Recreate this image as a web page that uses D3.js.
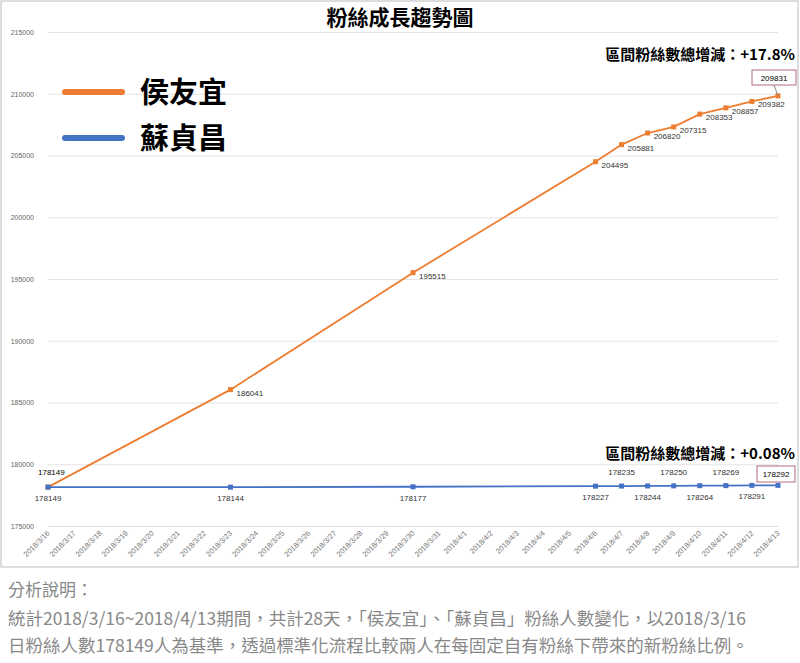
<!DOCTYPE html><html><head><meta charset="utf-8"><script src="https://cdn.jsdelivr.net/npm/d3@7"></script>
<style>body{margin:0;background:#fff;font-family:"Noto Sans CJK TC","Noto Sans",sans-serif}</style></head><body><svg id="c" width="800" height="663"></svg>
<script>
const dates=["2018/3/16","2018/3/17","2018/3/18","2018/3/19","2018/3/20","2018/3/21","2018/3/22","2018/3/23","2018/3/24","2018/3/25","2018/3/26","2018/3/27","2018/3/28","2018/3/29","2018/3/30","2018/3/31","2018/4/1","2018/4/2","2018/4/3","2018/4/4","2018/4/5","2018/4/6","2018/4/7","2018/4/8","2018/4/9","2018/4/10","2018/4/11","2018/4/12","2018/4/13"];
const pointDates=["2018/3/16","2018/3/23","2018/3/30","2018/4/6","2018/4/7","2018/4/8","2018/4/9","2018/4/10","2018/4/11","2018/4/12","2018/4/13"];
const hou=[178149,186041,195515,204495,205881,206820,207315,208353,208857,209382,209831];
const su=[178149,178144,178177,178227,178235,178244,178250,178264,178269,178291,178292];
const suLabelPos=["below","below","below","below","above","below","above","below","above","below","above"];
const yTicks=[175000,180000,185000,190000,195000,200000,205000,210000,215000];
const svg=d3.select("#c");
svg.append("rect").attr("x",1).attr("y",1).attr("width",797).attr("height",566).attr("fill","none").attr("stroke","#bbb");
const x=d3.scalePoint().domain(dates).range([48,778]);
const y=d3.scaleLinear().domain([175000,215000]).range([526,32]);
const ya=svg.append("g").attr("transform","translate(48,0)").call(d3.axisLeft(y).tickValues(yTicks).tickSize(-730).tickFormat(d3.format("d")));
ya.select(".domain").remove();
ya.selectAll("line").attr("stroke","#e4e4e4");
ya.selectAll("text").attr("fill","#666").attr("font-size",7).attr("x",-14).attr("font-family","Liberation Sans");
const xa=svg.append("g").attr("transform","translate(0,526)").call(d3.axisBottom(x).tickSize(0));
xa.select(".domain").attr("stroke","#e0e0e0");
xa.selectAll("text").attr("fill","#777").attr("font-size",7.5).attr("font-family","Liberation Sans").attr("text-anchor","end").attr("transform","translate(-2,4) rotate(-45)").attr("dy","0.3em");
const line=d3.line().x((d,i)=>x(pointDates[i])).y(d=>y(d));
function series(data,color){
 svg.append("path").datum(data).attr("d",line).attr("fill","none").attr("stroke",color).attr("stroke-width",1.8);
 svg.selectAll(null).data(data).enter().append("rect").attr("x",(d,i)=>x(pointDates[i])-2.5).attr("y",d=>y(d)-2.5).attr("width",5).attr("height",5).attr("fill",color);
}
series(hou,"#ed7d31");series(su,"#4472c4");
const lf="Liberation Sans";
hou.forEach((v,i)=>{if(i===0){svg.append("text").attr("x",x(pointDates[0])-10).attr("y",y(v)-12).text(v).attr("font-size",8).attr("font-family",lf);return;}
 if(i===hou.length-1)return;
 svg.append("text").attr("x",x(pointDates[i])+6).attr("y",y(v)+6).text(v).attr("font-size",8).attr("font-family",lf).attr("fill","#333");});
const last=hou.length-1;
svg.append("rect").attr("x",752).attr("y",70).attr("width",44).attr("height",15).attr("fill","#fff").attr("stroke","#b56b7a");
svg.append("text").attr("x",774).attr("y",81).attr("text-anchor","middle").text(hou[last]).attr("font-size",8).attr("font-family",lf);
svg.append("line").attr("x1",774).attr("y1",85).attr("x2",x(pointDates[last])).attr("y2",y(hou[last])).attr("stroke","#888");
su.forEach((v,i)=>{if(i===su.length-1)return;
 const ab=suLabelPos[i]==="above";
 svg.append("text").attr("x",x(pointDates[i])).attr("y",ab?y(v)-11:y(v)+14).attr("text-anchor","middle").text(v).attr("font-size",8).attr("font-family",lf).attr("fill","#333");});
svg.append("rect").attr("x",757).attr("y",466).attr("width",38).attr("height",16).attr("fill","#fff").attr("stroke","#b56b7a");
svg.append("text").attr("x",776).attr("y",477).attr("text-anchor","middle").text(su[su.length-1]).attr("font-size",8).attr("font-family",lf);
svg.append("text").attr("x",400).attr("y",25).attr("text-anchor","middle").text("粉絲成長趨勢圖").attr("font-size",21).attr("font-weight","bold");
svg.append("text").attr("x",795).attr("y",60).attr("text-anchor","end").text("區間粉絲數總增減：+17.8%").attr("font-size",15).attr("font-weight","bold");
svg.append("text").attr("x",795).attr("y",459).attr("text-anchor","end").text("區間粉絲數總增減：+0.08%").attr("font-size",15).attr("font-weight","bold");
[["侯友宜","#ed7d31",92],["蘇貞昌","#4472c4",138]].forEach(([n,c,yy])=>{
 svg.append("line").attr("x1",65).attr("x2",122).attr("y1",yy).attr("y2",yy).attr("stroke",c).attr("stroke-width",6).attr("stroke-linecap","round");
 svg.append("text").attr("x",140).attr("y",yy+11).text(n).attr("font-size",29).attr("font-weight","bold");});
svg.append("text").attr("x",8).attr("y",596).text("分析說明：").attr("font-size",17).attr("fill","#888");
svg.append("text").attr("x",8).attr("y",625).text("統計2018/3/16~2018/4/13期間，共計28天，「侯友宜」、「蘇貞昌」粉絲人數變化，以2018/3/16").attr("font-size",17.5).attr("fill","#888");
svg.append("text").attr("x",8).attr("y",652).text("日粉絲人數178149人為基準，透過標準化流程比較兩人在每固定自有粉絲下帶來的新粉絲比例。").attr("font-size",17.5).attr("fill","#888");
</script></body></html>
